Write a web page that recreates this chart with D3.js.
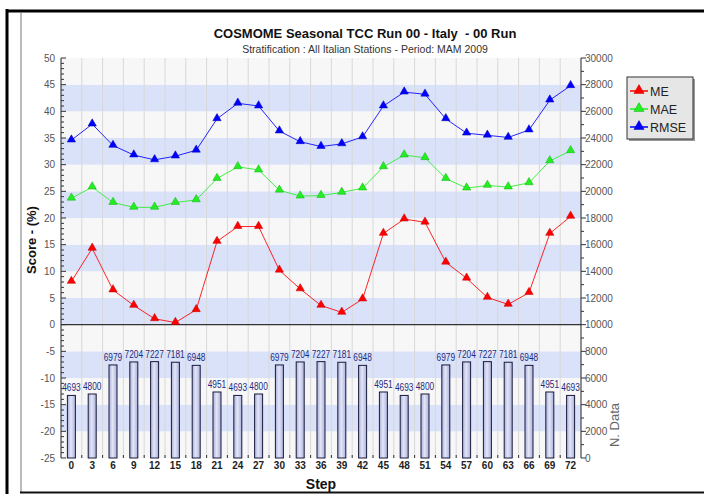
<!DOCTYPE html>
<html>
<head>
<meta charset="utf-8">
<script src="https://cdn.jsdelivr.net/npm/d3@7"></script>
<style>
  html, body { margin: 0; padding: 0; background: #fff; }
  svg { display: block; font-family: "Liberation Sans", Arial, sans-serif; }
</style>
</head>
<body>
<svg id="chart" width="704" height="494"></svg>
<script>
// Forecast steps (hours)
const steps = [0, 3, 6, 9, 12, 15, 18, 21, 24, 27, 30, 33, 36, 39, 42, 45, 48, 51, 54, 57, 60, 63, 66, 69, 72];

// Scores (%)
const me   = [8.1, 14.3, 6.5, 3.6, 1.1, 0.4, 2.8, 15.6, 18.4, 18.4, 10.2, 6.7, 3.6, 2.3, 4.8, 17.1, 19.8, 19.2, 11.7, 8.7, 5.1, 3.8, 6.0, 17.1, 20.3];
const mae  = [23.7, 25.8, 22.9, 22.0, 22.0, 22.9, 23.4, 27.4, 29.6, 29.0, 25.2, 24.1, 24.2, 24.8, 25.6, 29.6, 31.8, 31.3, 27.4, 25.6, 26.1, 25.8, 26.6, 30.7, 32.6];
const rmse = [34.6, 37.6, 33.6, 31.8, 30.9, 31.6, 32.7, 38.6, 41.5, 41.0, 36.3, 34.3, 33.4, 33.9, 35.2, 41.0, 43.6, 43.2, 38.6, 35.9, 35.5, 35.1, 36.5, 42.1, 44.8];

// Number of data per step
const nData = [4693, 4800, 6979, 7204, 7227, 7181, 6948, 4951, 4693, 4800, 6979, 7204, 7227, 7181, 6948, 4951, 4693, 4800, 6979, 7204, 7227, 7181, 6948, 4951, 4693];

const leftTicks = [50, 45, 40, 35, 30, 25, 20, 15, 10, 5, 0, -5, -10, -15, -20, -25];
const rightTicks = d3.range(0, 30001, 2000);

const seriesList = [
  { name: "ME",   values: me,   color: "#ff0000", dark: "#c00000" },
  { name: "MAE",  values: mae,  color: "#22ee22", dark: "#10b010" },
  { name: "RMSE", values: rmse, color: "#0000ff", dark: "#0000b0" }
];

const svg = d3.select("#chart");

// Frame
svg.append("line").attr("x1", 7).attr("x2", 7).attr("y1", 9).attr("y2", 494)
  .attr("stroke", "#000").attr("stroke-width", 3);
svg.append("line").attr("x1", 6).attr("x2", 704).attr("y1", 11).attr("y2", 11)
  .attr("stroke", "#000").attr("stroke-width", 3);
svg.append("line").attr("x1", 21).attr("x2", 21).attr("y1", 12).attr("y2", 492)
  .attr("stroke", "#777").attr("stroke-width", 1);
svg.append("line").attr("x1", 20).attr("x2", 704).attr("y1", 492.5).attr("y2", 492.5)
  .attr("stroke", "#111").attr("stroke-width", 2);

// Plot area
const plotL = 61, plotR = 581, plotT = 58, plotB = 458;

const x = d3.scaleBand().domain(steps).range([plotL, plotR]).paddingInner(0).paddingOuter(0);
const y = d3.scaleLinear().domain([-25, 50]).range([plotB, plotT]);
const yR = d3.scaleLinear().domain([0, 30000]).range([plotB, plotT]);
const cx = s => x(s) + x.bandwidth() / 2;

// Alternating bands
const bands = d3.range(-25, 50, 5);
svg.append("g").selectAll("rect").data(bands).join("rect")
  .attr("x", plotL).attr("width", plotR - plotL)
  .attr("y", d => y(d + 5)).attr("height", d => y(d) - y(d + 5))
  .attr("fill", d => (((d % 10) + 10) % 10 === 0) ? "#dae2fa" : "#f7f7f7");

// Vertical grid at category boundaries
const bounds = steps.slice(1).map(s => x(s));
svg.append("g").selectAll("line").data(bounds).join("line")
  .attr("x1", d => d).attr("x2", d => d).attr("y1", plotT).attr("y2", plotB)
  .attr("stroke", "#d8d8d8").attr("stroke-width", 1);

// Bars
const defs = svg.append("defs");
const grad = defs.append("linearGradient").attr("id", "barGrad")
  .attr("x1", "0%").attr("x2", "100%").attr("y1", "0%").attr("y2", "0%");
grad.append("stop").attr("offset", "0%").attr("stop-color", "#a9b0dc");
grad.append("stop").attr("offset", "45%").attr("stop-color", "#e4e6f6");
grad.append("stop").attr("offset", "100%").attr("stop-color", "#a9b0dc");

const barW = 8;
svg.append("g").selectAll("rect").data(steps).join("rect")
  .attr("x", (s) => cx(s) - barW / 2)
  .attr("width", barW)
  .attr("y", (s, i) => yR(nData[i]))
  .attr("height", (s, i) => yR(0) - yR(nData[i]))
  .attr("fill", "url(#barGrad)")
  .attr("stroke", "#1a1a3a").attr("stroke-width", 1);

svg.append("g").selectAll("text").data(steps).join("text")
  .attr("x", s => cx(s))
  .attr("y", (s, i) => yR(nData[i]) - 4)
  .attr("text-anchor", "middle")
  .attr("font-size", 10)
  .attr("fill", "#1c2a80")
  .attr("textLength", 18.5).attr("lengthAdjust", "spacingAndGlyphs")
  .text((s, i) => nData[i]);

// Separator between score panel and data panel
svg.append("line").attr("x1", plotL).attr("x2", plotR).attr("y1", y(0)).attr("y2", y(0))
  .attr("stroke", "#333").attr("stroke-width", 1.3);

// Score lines
const tri = d3.symbol().type(d3.symbolTriangle).size(30);
seriesList.forEach(sr => {
  const line = d3.line().x((d, i) => cx(steps[i])).y(d => y(d));
  svg.append("path").datum(sr.values).attr("d", line)
    .attr("fill", "none").attr("stroke", sr.color).attr("stroke-width", 1)
    .attr("stroke-opacity", 0.85);
  svg.append("g").selectAll("path").data(sr.values).join("path")
    .attr("d", tri)
    .attr("transform", (d, i) => `translate(${cx(steps[i])},${y(d) - 0.5})`)
    .attr("fill", sr.color).attr("stroke", sr.dark).attr("stroke-width", 0.5);
});

// Left axis
const gL = svg.append("g");
gL.append("line").attr("x1", plotL).attr("x2", plotL).attr("y1", plotT).attr("y2", plotB)
  .attr("stroke", "#222");
gL.selectAll("line.minor").data(d3.range(-25, 51, 1)).join("line").attr("class", "minor")
  .attr("x1", plotL).attr("x2", d => plotL + (d % 5 === 0 ? 5 : 3))
  .attr("y1", d => y(d)).attr("y2", d => y(d)).attr("stroke", "#333");
gL.selectAll("text").data(leftTicks).join("text")
  .attr("x", plotL - 6).attr("y", d => y(d) + 3.5)
  .attr("text-anchor", "end").attr("font-size", 10).attr("fill", "#555")
  .text(d => d);

// Right axis
const gR = svg.append("g");
gR.append("line").attr("x1", plotR).attr("x2", plotR).attr("y1", plotT).attr("y2", plotB)
  .attr("stroke", "#222");
gR.selectAll("line.minor").data(d3.range(0, 30001, 1000)).join("line").attr("class", "minor")
  .attr("x1", plotR).attr("x2", d => plotR + (d % 2000 === 0 ? 5 : 3))
  .attr("y1", d => yR(d)).attr("y2", d => yR(d)).attr("stroke", "#333");
gR.selectAll("text").data(rightTicks).join("text")
  .attr("x", plotR + 4).attr("y", d => yR(d) + 3.5)
  .attr("text-anchor", "start").attr("font-size", 10).attr("fill", "#555")
  .text(d => d);

// Bottom axis
const gB = svg.append("g");
gB.append("line").attr("x1", plotL).attr("x2", plotR).attr("y1", plotB).attr("y2", plotB)
  .attr("stroke", "#222");
gB.selectAll("line").data(bounds).join("line")
  .attr("x1", d => d).attr("x2", d => d).attr("y1", plotB).attr("y2", plotB - 3)
  .attr("stroke", "#333");
gB.selectAll("text").data(steps).join("text")
  .attr("x", s => cx(s)).attr("y", 469)
  .attr("text-anchor", "middle").attr("font-size", 10).attr("font-weight", "bold")
  .attr("fill", "#222").text(s => s);

// Titles
svg.append("text").attr("x", 365).attr("y", 38).attr("text-anchor", "middle")
  .attr("font-size", 13).attr("font-weight", "bold").attr("fill", "#111")
  .attr("xml:space", "preserve")
  .text("COSMOME Seasonal TCC Run 00 - Italy  - 00 Run");
svg.append("text").attr("x", 365).attr("y", 53).attr("text-anchor", "middle")
  .attr("font-size", 10.5).attr("fill", "#333")
  .text("Stratification : All Italian Stations - Period: MAM 2009");

// Axis titles
svg.append("text").attr("transform", "translate(36,240) rotate(-90)")
  .attr("text-anchor", "middle").attr("font-size", 13).attr("font-weight", "bold")
  .attr("fill", "#111").text("Score - (%)");
svg.append("text").attr("transform", "translate(619,425) rotate(-90)")
  .attr("text-anchor", "middle").attr("font-size", 13)
  .attr("fill", "#666").text("N. Data");
svg.append("text").attr("x", 321).attr("y", 489).attr("text-anchor", "middle")
  .attr("font-size", 14).attr("font-weight", "bold").attr("fill", "#111").text("Step");

// Legend
const lg = svg.append("g").attr("transform", "translate(627,77)");
lg.append("rect").attr("x", 2).attr("y", 2).attr("width", 66).attr("height", 62).attr("fill", "#999");
lg.append("rect").attr("x", 0).attr("y", 0).attr("width", 66).attr("height", 62)
  .attr("fill", "#e6e6e6").attr("stroke", "#333").attr("stroke-width", 1);
seriesList.forEach((sr, i) => {
  const ly = 14 + i * 18;
  lg.append("line").attr("x1", 3).attr("x2", 21).attr("y1", ly).attr("y2", ly)
    .attr("stroke", sr.color).attr("stroke-width", 1.5);
  lg.append("path").attr("d", d3.symbol().type(d3.symbolTriangle).size(45))
    .attr("transform", `translate(12,${ly - 0.5})`).attr("fill", sr.color).attr("stroke", sr.dark).attr("stroke-width", 0.5);
  lg.append("text").attr("x", 23).attr("y", ly + 4.5).attr("font-size", 12.5)
    .attr("fill", "#222").text(sr.name);
});
</script>
</body>
</html>
